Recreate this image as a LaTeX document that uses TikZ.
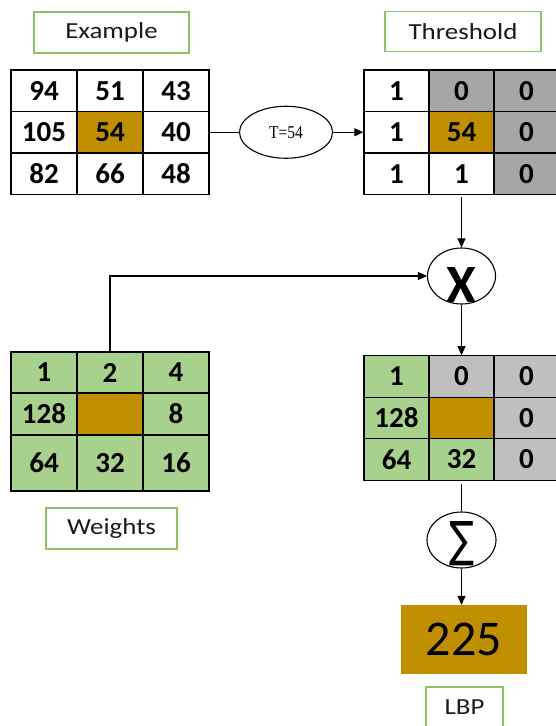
\documentclass[tikz,border=0pt]{standalone}
\usepackage{fontspec}
\setmainfont{Carlito}
\newfontfamily\labelfont[FakeStretch=1.17]{Carlito}
\newfontfamily\smallserif[FakeStretch=0.86]{Liberation Serif}
\newfontfamily\symbolfont{DejaVu Sans}
\usetikzlibrary{arrows.meta,shapes.geometric}

\definecolor{gold}{HTML}{BF8F00}
\definecolor{leaf}{HTML}{A9D18E}
\definecolor{darkgrey}{HTML}{A6A6A6}
\definecolor{lightgrey}{HTML}{BFBFBF}
\definecolor{frame}{HTML}{8DC26B}
\definecolor{ink}{HTML}{1A1A1A}

\begin{document}
\begin{tikzpicture}[x=1pt,y=-1pt,
  cell/.style={draw=black, line width=1.3pt, inner sep=0pt,
    minimum width=66pt, minimum height=41.5pt,
    font=\bfseries\fontsize{29}{29}\selectfont},
  rcell/.style={cell, minimum width=65pt},
  tag/.style={draw=frame, line width=1.3pt, fill=white, inner sep=0pt,
    text=ink, font=\labelfont\fontsize{23}{23}\selectfont},
  opnode/.style={ellipse, draw=black, line width=1.1pt, inner sep=0pt, fill=white},
  wire/.style={line width=1.1pt, draw=black},
  flow/.style={wire, -{Triangle[length=9pt,width=8pt]}}
]
\useasboundingbox (0,0) rectangle (556,726);
\clip (0,0) rectangle (556,726);

% ---- titles ----
\node[tag, minimum width=155pt, minimum height=41pt] (tex) at (111.5,32.5) {Example};
\node[tag, minimum width=156pt, minimum height=40pt] (tth) at (463,31.5) {Threshold};
\node[tag, minimum width=131pt, minimum height=41pt] (twt) at (111.5,528.5) {Weights};
\node[tag, minimum width=77pt, minimum height=41pt] (tlbp) at (464.5,707.5) {LBP};

% ---- example neighbourhood ----
\node[cell] (ex11) at (44,90.75) {94};
\node[cell] (ex12) at (110,90.75) {51};
\node[cell] (ex13) at (176,90.75) {43};
\node[cell] (ex21) at (44,132.25) {105};
\node[cell, fill=gold] (ex22) at (110,132.25) {54};
\node[cell] (ex23) at (176,132.25) {40};
\node[cell] (ex31) at (44,173.75) {82};
\node[cell] (ex32) at (110,173.75) {66};
\node[cell] (ex33) at (176,173.75) {48};

% ---- thresholded neighbourhood ----
\node[rcell] (th11) at (396.5,90.75) {1};
\node[rcell, fill=darkgrey] (th12) at (461.5,90.75) {0};
\node[rcell, fill=darkgrey] (th13) at (526.5,90.75) {0};
\node[rcell] (th21) at (396.5,132.25) {1};
\node[rcell, fill=gold] (th22) at (461.5,132.25) {54};
\node[rcell, fill=darkgrey] (th23) at (526.5,132.25) {0};
\node[rcell] (th31) at (396.5,173.75) {1};
\node[rcell] (th32) at (461.5,173.75) {1};
\node[rcell, fill=darkgrey] (th33) at (526.5,173.75) {0};

% ---- weights ----
\node[cell, fill=leaf, minimum height=41pt] (w11) at (44,372.5) {1};
\node[cell, fill=leaf, minimum height=41pt] (w12) at (110,372.5) {2};
\node[cell, fill=leaf, minimum height=41pt] (w13) at (176,372.5) {4};
\node[cell, fill=leaf, minimum height=42pt] (w21) at (44,414) {128};
\node[cell, fill=gold, minimum height=42pt] (w22) at (110,414) {};
\node[cell, fill=leaf, minimum height=42pt] (w23) at (176,414) {8};
\node[cell, fill=leaf, minimum height=56pt] (w31) at (44,463) {64};
\node[cell, fill=leaf, minimum height=56pt] (w32) at (110,463) {32};
\node[cell, fill=leaf, minimum height=56pt] (w33) at (176,463) {\raisebox{-3pt}{16}};

% ---- weighted result ----
\node[rcell, fill=leaf] (r11) at (396.5,376.5) {1};
\node[rcell, fill=lightgrey] (r12) at (461.5,376.5) {0};
\node[rcell, fill=lightgrey] (r13) at (526.5,376.5) {0};
\node[rcell, fill=leaf] (r21) at (396.5,418) {128};
\node[rcell, fill=gold] (r22) at (461.5,418) {};
\node[rcell, fill=lightgrey] (r23) at (526.5,418) {0};
\node[rcell, fill=leaf] (r31) at (396.5,459.5) {64};
\node[rcell, fill=leaf] (r32) at (461.5,459.5) {32};
\node[rcell, fill=lightgrey] (r33) at (526.5,459.5) {0};

% ---- operators ----
\node[opnode, minimum width=93pt, minimum height=52pt] (teq) at (286,132.25)
  {\smallserif\fontsize{18}{18}\selectfont T=54};
\node[opnode, minimum width=68pt, minimum height=56pt] (mult) at (461.5,276) {};
\node[font=\bfseries\fontsize{54}{54}\selectfont] (multsym) at (461.5,284.5) {X};
\node[opnode, minimum width=69pt, minimum height=56pt] (sum) at (461.5,540) {};
\node[inner sep=0pt] (sumsym) at (461.5,544) {\resizebox{25pt}{35pt}{\symbolfont ∑}};

% ---- LBP value ----
\node[fill=gold, inner sep=0pt, minimum width=126pt, minimum height=69pt,
  font=\fontsize{50}{50}\selectfont] (lbpval) at (464,639.5) {225};

% ---- connectors ----
\draw[wire] (ex23.east) -- (teq.west);
\draw[flow] (teq.east) -- (th21.west);
\draw[flow, shorten <=2pt] (th32.south) -- (mult.north);
\draw[flow] (w12.north) |- (mult.west);
\draw[flow] (mult.south) -- (r12.north);
\draw[wire, shorten <=3pt] (r32.south) -- (sum.north);
\draw[flow] (sum.south) -- (lbpval.north -| sum.south);
\end{tikzpicture}
\end{document}
